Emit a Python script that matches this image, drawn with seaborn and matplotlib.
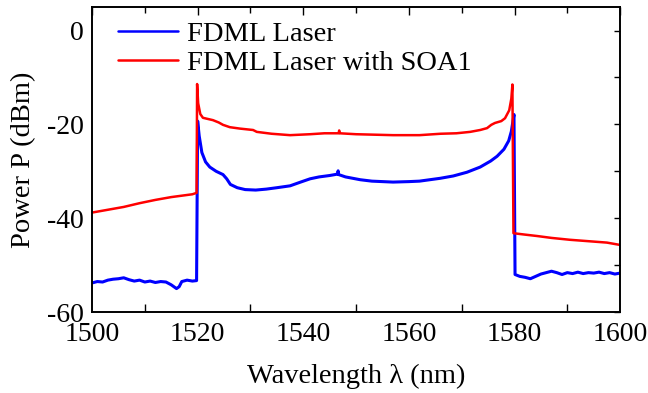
import matplotlib
matplotlib.use("Agg")
import matplotlib.pyplot as plt
from matplotlib.ticker import FixedLocator, FuncFormatter, MultipleLocator
import pandas as pd
import seaborn as sns

# Spectrum of the swept source without amplification (wavelength in nm, power in dBm)
wl_fdml = [1500, 1501, 1502, 1503, 1504, 1505, 1506, 1507, 1508, 1509, 1510,
           1511, 1512, 1513, 1514, 1515, 1516, 1516.5, 1517, 1518, 1519, 1519.8,
           1520.0, 1520.3, 1520.8, 1521.5, 1522.3, 1523.5, 1524.8, 1525.5, 1526.2,
           1527.5, 1529, 1531, 1533, 1535, 1537.5, 1539.5, 1541.3, 1543, 1545,
           1546.5, 1546.6, 1546.7, 1548, 1550.8, 1553, 1557, 1560, 1562, 1565.9,
           1568.4, 1571, 1573.5, 1575.5, 1576.7, 1578, 1578.9, 1579.4, 1579.9,
           1580.1, 1581, 1582, 1583, 1584, 1585, 1586, 1587, 1588, 1589, 1590,
           1591, 1592, 1593, 1594, 1595, 1596, 1597, 1598, 1599, 1600]
p_fdml = [-53.8, -53.5, -53.6, -53.2, -53.0, -52.9, -52.7, -53.1, -53.4, -53.2, -53.6,
          -53.4, -53.7, -53.5, -53.6, -54.2, -55.0, -54.6, -53.5, -53.2, -53.4, -53.3,
          -19.3, -22.5, -26.0, -28.0, -29.1, -30.0, -30.7, -31.6, -32.8,
          -33.5, -33.9, -34.0, -33.8, -33.5, -33.1, -32.3, -31.6, -31.2, -30.9,
          -30.6, -29.9, -30.7, -31.2, -31.8, -32.1, -32.3, -32.2, -32.1, -31.5,
          -31.0, -30.2, -29.1, -27.8, -26.8, -25.3, -23.5, -21.5, -17.9,
          -52.0, -52.4, -52.6, -52.9, -52.4, -51.9, -51.6, -51.3, -51.6, -52.0, -51.6,
          -51.8, -51.5, -51.8, -51.6, -51.7, -51.5, -51.8, -51.6, -51.9, -51.7]

# Spectrum after the semiconductor optical amplifier
wl_soa = [1500, 1503, 1506, 1509, 1512, 1515, 1517, 1519, 1519.8,
          1519.9, 1520.1, 1520.5, 1521, 1522.9, 1524, 1524.8, 1526.1, 1528,
          1530.5, 1531.2, 1534, 1537.5, 1541.3, 1544, 1546.7, 1546.8, 1546.9,
          1550, 1557, 1562, 1566, 1569, 1571.6, 1573.5, 1574.8, 1575.6, 1576.3,
          1577.5, 1578.2, 1579, 1579.4, 1579.6,
          1579.8, 1582, 1584.3, 1587, 1590.5, 1594, 1597.5, 1599, 1600]
p_soa = [-38.8, -38.2, -37.6, -36.8, -36.1, -35.5, -35.2, -34.9, -34.6,
         -11.4, -15.5, -17.8, -18.6, -19.1, -19.6, -20.1, -20.6, -20.9,
         -21.2, -21.6, -22.0, -22.3, -22.1, -21.9, -21.9, -21.3, -21.9,
         -22.1, -22.3, -22.3, -22.0, -21.9, -21.6, -21.2, -20.8, -20.1, -19.7,
         -19.3, -18.7, -17.0, -14.5, -11.5,
         -43.2, -43.5, -43.8, -44.2, -44.6, -44.9, -45.2, -45.5, -45.7]

series_names = ["FDML Laser", "FDML Laser with SOA1"]
series_colors = ["#0000ff", "#ff0000"]

x_ticks = [1500, 1520, 1540, 1560, 1580, 1600]
y_ticks = [-60, -50, -40, -30, -20, -10, 0]

df = pd.concat([
    pd.DataFrame({"wl": wl_fdml, "p": p_fdml, "series": series_names[0]}),
    pd.DataFrame({"wl": wl_soa, "p": p_soa, "series": series_names[1]}),
], ignore_index=True)

sns.set_theme(style="white")
plt.rcParams["font.family"] = ["Liberation Serif", "DejaVu Serif"]
plt.rcParams["text.color"] = "black"
plt.rcParams["axes.labelcolor"] = "black"
plt.rcParams["xtick.color"] = "black"
plt.rcParams["ytick.color"] = "black"

fig = plt.figure(figsize=(6.48, 3.93), dpi=100)
ax = fig.add_axes([0.142, 0.206, 0.815, 0.776])

sns.lineplot(data=df, x="wl", y="p", hue="series", hue_order=series_names,
             palette=series_colors, estimator=None, sort=False,
             linewidth=1.8, ax=ax)
# the unamplified trace is noisier, so it reads a little heavier
ax.get_lines()[0].set_linewidth(2.2)

ax.set_xlim(1500, 1600)
ax.set_ylim(-60, 5)

ax.xaxis.set_major_locator(FixedLocator(x_ticks))
ax.xaxis.set_minor_locator(MultipleLocator(10))
ax.yaxis.set_major_locator(FixedLocator(y_ticks))
ax.yaxis.set_major_formatter(
    FuncFormatter(lambda v, pos: f"{int(v)}" if int(v) % 20 == 0 else ""))

ax.tick_params(axis="x", which="major", direction="in", length=10, width=1.0,
               labelsize=20, pad=7, colors="black")
ax.tick_params(axis="x", which="minor", direction="in", length=5.5, width=1.0,
               bottom=True, colors="black")
ax.tick_params(axis="y", which="major", direction="in", length=9, width=1.0,
               labelsize=20, pad=6, colors="black")

# Mirrored ticks on top and right frame edges
top = ax.secondary_xaxis("top")
top.xaxis.set_major_locator(FixedLocator(x_ticks))
top.xaxis.set_minor_locator(MultipleLocator(10))
top.tick_params(which="major", direction="in", length=6, width=1.0,
                labeltop=False, colors="black")
top.tick_params(which="minor", direction="in", length=4.5, width=1.0, colors="black")
right = ax.secondary_yaxis("right")
right.yaxis.set_major_locator(FixedLocator(y_ticks))
right.tick_params(which="major", direction="in", length=4.5, width=1.0,
                  labelright=False, colors="black")
for sa in (top, right):
    for sp in sa.spines.values():
        sp.set_visible(False)

for sp in ax.spines.values():
    sp.set_visible(True)
    sp.set_color("black")
    sp.set_linewidth(1.4)

ax.set_xlabel("Wavelength λ (nm)", fontsize=20.5, labelpad=12, color="black")
ax.set_ylabel("Power P (dBm)", fontsize=20.5, labelpad=8, color="black")

leg = ax.legend(loc="upper left", bbox_to_anchor=(0.049, 0.955), frameon=False,
                fontsize=20.5, handlelength=2.1, handletextpad=0.33,
                labelspacing=0.12, borderpad=0, borderaxespad=0)
for line in leg.get_lines():
    line.set_linewidth(1.8)
for txt in leg.get_texts():
    txt.set_color("black")

fig.savefig("out.png", dpi=100, facecolor="white")
